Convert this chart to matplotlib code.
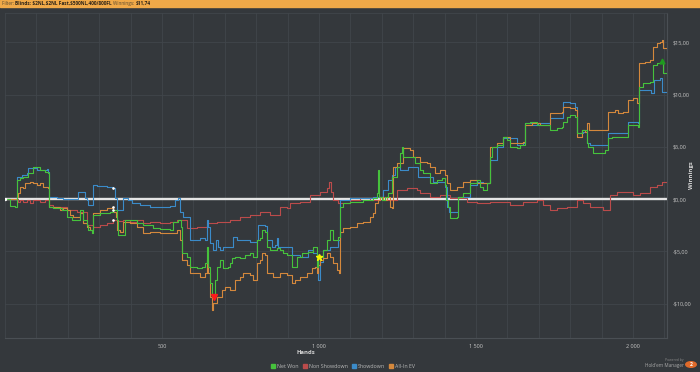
import matplotlib
matplotlib.use("Agg")
import matplotlib.pyplot as plt
from matplotlib.lines import Line2D
from matplotlib.patches import Rectangle, Circle

plt.rcParams['font.family'] = ['Open Sans', 'DejaVu Sans']

# (hand, winnings in $) breakpoints
net_won = [
    (0, 0), (16, -0.65), (32, -0.75), (38, 1.8), (48, 2.0), (57, 2.1), (73, 2.5), (89, 3.05),
    (111, 2.8), (127, 2.6), (137, 2.5), (140, -0.75), (153, -0.85), (182, -1.05), (197, -1.7),
    (213, -2.0), (239, -1.05), (248, -2.0), (261, -2.5), (264, -2.95), (277, -3.25), (280, -1.55),
    (303, -1.35), (334, -1.25), (344, -1.05), (357, -2.0), (360, -3.45), (382, -2.0), (420, -2.3),
    (440, -2.5), (471, -2.8), (494, -2.85), (525, -2.95), (535, -2.2), (551, -2.0), (561, -2.7),
    (564, -5.15), (580, -5.55), (589, -6.5), (612, -6.6), (627, -6.5), (637, -6.1), (643, -4.6),
    (647, -6.5), (653, -8.0), (659, -9.4), (669, -7.75), (675, -6.5), (685, -5.85), (694, -6.6),
    (710, -6.5), (717, -6.1), (723, -5.65), (733, -5.55), (748, -5.65), (764, -5.35), (780, -5.15),
    (790, -5.55), (803, -3.9), (812, -3.75), (819, -2.95), (828, -3.15), (834, -4.6), (844, -4.9),
    (866, -4.7), (876, -4.9), (885, -5.15), (898, -5.35), (914, -6.5), (930, -5.55), (946, -5.15),
    (965, -5.05), (981, -4.6), (994, -6.5), (998, -5.55), (1013, -4.9), (1026, -3.9), (1035, -2.95),
    (1045, -3.9), (1061, -3.65), (1066, -0.75), (1076, -0.4), (1099, -0.3), (1140, -0.1),
    (1172, 0.1), (1185, 0.55), (1188, 2.8), (1191, 0.2), (1201, -0.1), (1210, 0.2), (1220, 0.55),
    (1233, 2.1), (1248, 3.05), (1258, 4.4), (1264, 5.0), (1268, 4.0), (1306, 3.45), (1322, 2.8),
    (1331, 2.5), (1354, 1.55), (1376, 1.8), (1392, 2.0), (1401, 1.35), (1405, -0.1), (1411, -0.75),
    (1417, -1.8), (1440, -1.7), (1443, 0.2), (1459, 0.55), (1481, 1.55), (1503, 1.8), (1513, 1.15),
    (1522, 0.85), (1535, 1.55), (1545, 4.0), (1551, 5.0), (1567, 5.15), (1586, 5.95), (1599, 5.65),
    (1608, 5.0), (1630, 4.9), (1640, 5.15), (1656, 7.25), (1672, 7.35), (1694, 7.1), (1736, 6.6),
    (1758, 6.8), (1774, 6.9), (1777, 7.35), (1790, 7.85), (1799, 8.05), (1815, 7.85), (1822, 6.3),
    (1838, 6.6), (1853, 5.35), (1857, 5.0), (1873, 4.4), (1911, 4.7), (1920, 5.85), (1933, 5.95),
    (1984, 7.1), (2016, 6.9), (2019, 10.7), (2032, 11.1), (2054, 11.2), (2064, 12.8), (2076, 13.0),
    (2086, 13.1), (2092, 13.2), (2096, 12.05), (2108, 11.75),
]

showdown = [
    (0, 0), (38, 2.1), (54, 2.3), (70, 2.5), (73, 2.95), (102, 2.8), (134, 2.85), (137, 2.6),
    (140, 0.2), (166, 0.1), (185, 0.0), (232, 0.65), (255, 0.1), (261, -0.1), (264, -0.55),
    (280, 1.35), (293, 1.25), (325, 1.15), (344, 1.05), (350, 0.1), (357, -1.05), (376, 0.1),
    (392, -0.1), (404, -0.4), (430, -0.55), (462, -0.75), (525, -0.65), (541, -0.1), (551, 0.1),
    (557, -1.25), (567, -1.7), (589, -3.9), (621, -3.75), (637, -3.9), (643, -2.0), (647, -2.7),
    (653, -4.2), (662, -4.9), (672, -3.9), (678, -4.6), (685, -4.9), (694, -4.6), (726, -3.65),
    (739, -3.9), (780, -4.1), (803, -3.9), (806, -2.5), (828, -2.6), (834, -3.9), (850, -4.6),
    (860, -4.4), (866, -3.75), (869, -4.6), (914, -5.35), (940, -5.55), (965, -4.9), (981, -5.15),
    (994, -5.65), (997, -7.75), (1003, -6.0), (1013, -4.9), (1035, -4.6), (1061, -3.9),
    (1067, -0.1), (1099, 0.1), (1172, 0.2), (1204, 0.85), (1220, 1.8), (1233, 2.3), (1242, 3.05),
    (1258, 2.8), (1284, 3.05), (1315, 2.1), (1363, 1.65), (1401, 1.15), (1408, -0.75),
    (1414, -1.25), (1443, 0.2), (1481, 1.35), (1503, 1.65), (1522, 1.55), (1545, 3.75),
    (1567, 5.0), (1586, 5.85), (1630, 5.15), (1650, 5.35), (1656, 7.25), (1678, 7.1), (1697, 7.25),
    (1736, 7.75), (1777, 9.3), (1799, 9.2), (1815, 8.8), (1822, 6.3), (1841, 6.4), (1853, 5.35),
    (1863, 5.15), (1920, 6.3), (1984, 7.35), (2016, 7.25), (2019, 10.45), (2057, 10.15),
    (2067, 11.4), (2086, 11.6), (2092, 10.25), (2108, 10.25),
]

all_in_ev = [
    (0, 0), (38, 0.2), (41, 0.55), (48, 1.15), (57, 1.05), (64, 1.55), (80, 1.65), (89, 1.55),
    (102, 1.35), (111, 1.55), (121, 1.15), (137, 1.05), (140, -0.75), (175, -1.05), (185, -0.85),
    (197, -1.05), (207, -1.55), (217, -1.7), (239, -1.35), (248, -2.3), (261, -2.7), (271, -2.95),
    (280, -1.35), (303, -1.05), (325, -0.85), (341, -0.75), (344, -1.25), (352, -1.7), (358, -2.95),
    (366, -3.15), (376, -2.2), (398, -2.3), (420, -2.7), (440, -3.25), (462, -3.15), (494, -3.25),
    (548, -2.95), (557, -3.9), (564, -5.85), (580, -6.3), (589, -7.1), (621, -7.45), (637, -7.1),
    (643, -5.85), (647, -7.1), (653, -9.4), (659, -10.6), (662, -9.95), (675, -9.4), (691, -8.7),
    (701, -8.4), (717, -8.7), (733, -7.75), (748, -7.45), (758, -7.1), (780, -7.25), (790, -7.75),
    (803, -6.1), (812, -5.85), (819, -5.15), (828, -5.35), (834, -7.1), (854, -7.45), (876, -7.1),
    (898, -7.25), (914, -8.05), (924, -7.75), (940, -7.45), (962, -7.1), (978, -6.6), (987, -6.5),
    (994, -7.1), (997, -6.3), (1003, -5.85), (1013, -5.65), (1026, -5.15), (1035, -5.55),
    (1045, -6.1), (1057, -6.8), (1064, -7.1), (1067, -3.15), (1076, -2.8), (1099, -2.7),
    (1121, -2.3), (1140, -2.2), (1162, -1.7), (1172, -1.35), (1178, -0.4), (1188, -0.1),
    (1194, 0.2), (1204, -0.1), (1217, 0.2), (1226, -0.75), (1233, -0.85), (1236, 3.05),
    (1248, 3.45), (1268, 4.9), (1290, 4.7), (1299, 4.0), (1322, 3.55), (1344, 3.45), (1354, 3.05),
    (1370, 2.5), (1385, 2.8), (1401, 2.3), (1408, 1.55), (1417, 0.85), (1440, 1.15), (1459, 1.65),
    (1481, 1.8), (1503, 1.55), (1545, 5.0), (1567, 5.35), (1586, 5.95), (1608, 5.35), (1650, 5.45),
    (1656, 7.1), (1678, 7.25), (1704, 7.1), (1736, 8.25), (1774, 8.35), (1777, 8.8), (1799, 8.7),
    (1815, 8.5), (1822, 5.95), (1838, 6.6), (1847, 6.4), (1853, 7.25), (1860, 6.6), (1920, 8.35),
    (1942, 8.5), (1952, 8.25), (1968, 8.35), (1984, 9.45), (2000, 9.65), (2013, 9.2), (2019, 13.0),
    (2038, 13.1), (2054, 13.3), (2064, 14.5), (2076, 14.9), (2086, 15.0), (2092, 15.2),
    (2096, 14.45), (2108, 14.25),
]

non_showdown = [
    (0, 0), (41, -0.3), (48, -0.1), (57, -0.3), (70, -0.1), (80, -0.4), (89, -0.1), (111, -0.3),
    (127, -0.1), (140, -0.55), (153, -0.75), (197, -1.05), (229, -1.25), (261, -2.5), (280, -2.7),
    (303, -2.5), (325, -2.3), (344, -2.05), (360, -2.1), (376, -2.0), (398, -2.2), (420, -2.0),
    (440, -2.3), (462, -2.2), (494, -2.3), (525, -2.2), (548, -2.0), (580, -2.8), (612, -2.7),
    (643, -2.3), (675, -2.2), (717, -2.0), (748, -1.7), (780, -1.55), (812, -1.25), (844, -1.55),
    (876, -0.75), (898, -0.85), (908, -0.4), (940, -0.3), (971, 0.4), (1003, 0.65), (1026, 1.05),
    (1032, 1.65), (1038, 0.65), (1045, -0.1), (1061, -0.4), (1099, -0.1), (1131, 0.1),
    (1162, -0.1), (1194, 0.2), (1217, -0.1), (1248, 0.85), (1280, 1.05), (1312, 0.85), (1322, 0.55),
    (1354, 0.2), (1385, 0.4), (1417, 0.1), (1471, -0.3), (1503, -0.4), (1545, -0.3), (1608, -0.55),
    (1650, -0.3), (1694, -0.1), (1713, -0.55), (1736, -1.05), (1758, -0.85), (1790, -0.75),
    (1822, -0.1), (1841, -0.4), (1863, -0.75), (1904, -1.05), (1927, 0.4), (1949, 0.65),
    (2000, 0.4), (2022, 0.55), (2054, 1.15), (2076, 1.35), (2092, 1.65), (2108, 1.55),
]

# special markers
session_hand = 344
session_vals = [1.05, -0.75, -1.05, -2.05]
low_point = (666, -9.4)
star_point = (1000, -5.55)
high_point = (2092, 13.2)

x_ticks = [500, 1000, 1500, 2000]
x_labels = ["500", "1 000", "1 500", "2 000"]
y_ticks = [-10, -5, 0, 5, 10, 15]
y_labels = ["-\\$10,00", "-\\$5,00", "\\$0,00", "\\$5,00", "\\$10,00", "\\$15,00"]

bg = '#34383c'
grid_c = '#41464b'
txt_c = '#c4c4c4'

series = [
    ("Net Won", net_won, '#46c23c', 5),
    ("Non Showdown", non_showdown, '#bb4b4b', 3),
    ("Showdown", showdown, '#3b8bc9', 3.5),
    ("All-In EV", all_in_ev, '#d4883c', 4),
]

fig = plt.figure(figsize=(7, 3.72), dpi=100, facecolor=bg)
ax = fig.add_axes([5 / 700, 1 - 338 / 372, 662 / 700, 325 / 372])
ax.set_facecolor(bg)

ax.set_xlim(0, 2108)
ax.set_ylim(-13.3, 17.8)

for h in range(100, 2108, 100):
    ax.axvline(h, color=grid_c, lw=0.6, zorder=0)
for v in y_ticks:
    ax.axhline(v, color=grid_c, lw=0.6, zorder=0)

ax.axhline(0, color='#e4e4e4', lw=1.7, zorder=1.5)

for name, data, color, z in series:
    hx = [p[0] for p in data]
    hy = [p[1] for p in data]
    ax.plot(hx, hy, color=color, lw=0.8, drawstyle='steps-post', zorder=z)

ax.plot([0], [0], 'o', color='white', ms=1.4, zorder=6)
ax.plot([session_hand] * len(session_vals), session_vals, 'o', color='white', ms=0.9, zorder=6)
ax.plot(*low_point, marker='v', color='#ff1a1a', ms=4, zorder=7)
ax.plot(*star_point, marker='*', color='#f5f000', ms=4.5, zorder=7)
ax.plot(*high_point, marker='^', color='#1f9a1f', ms=3.5, zorder=7)

ax.set_xticks(x_ticks)
ax.set_xticklabels(x_labels)
ax.set_yticks(y_ticks)
ax.set_yticklabels(y_labels)
ax.yaxis.tick_right()
ax.tick_params(length=0, labelsize=4, colors=txt_c, pad=4)
for side in ['top', 'left']:
    ax.spines[side].set_color(grid_c)
    ax.spines[side].set_linewidth(0.6)
for side in ['bottom', 'right']:
    ax.spines[side].set_color('#4a4f54')
    ax.spines[side].set_linewidth(0.8)

fig.text(306 / 700, 1 - 352 / 372, "Hands", ha='center', va='center',
         fontsize=4.2, weight='bold', color='#d8d8d8')
fig.text(692 / 700, 1 - 175 / 372, "Winnings", ha='center', va='center',
         fontsize=4.2, weight='bold', color='#d8d8d8', rotation=90)

handles = [Line2D([], [], ls='', marker='s', ms=2.2, color=c) for _, _, c, _ in series]
fig.legend(handles, [s[0] for s in series], loc='center', bbox_to_anchor=(343 / 700, 1 - 366 / 372),
           ncol=4, fontsize=3.8, frameon=False, handletextpad=0.35, columnspacing=0.8,
           handlelength=0.8, labelcolor='#b8b8b8')

# header bar
fig.patches.append(Rectangle((0, 1 - 7 / 372), 1, 7 / 372, transform=fig.transFigure,
                             color='#f0a948', zorder=0))
t1 = fig.text(1.5 / 700, 1 - 3.6 / 372, "Filter: ", va='center', fontsize=3.4, color='#5a4a30')
t2 = fig.text(0, 0, "Blinds: \\$2NL,\\$2NL Fast,\\$500NL,400/800FL ", fontsize=3.4,
              color='#2a2218', weight='bold')
t3 = fig.text(0, 0, "Winnings: ", fontsize=3.4, color='#5a4a30')
t4 = fig.text(0, 0, "\\$11,74", fontsize=3.4, color='#2a2218', weight='bold')
fig.canvas.draw()
r = fig.canvas.get_renderer()
prev = t1
for t in [t2, t3, t4]:
    bb = prev.get_window_extent(r).transformed(fig.transFigure.inverted())
    t.set_position((bb.x1, 1 - 3.6 / 372))
    t.set_va('center')
    fig.canvas.draw()
    prev = t

# logo
fig.text(684 / 700, 1 - 359.5 / 372, "Powered by", ha='right', va='center', fontsize=2.4, color='#8a8a8a')
fig.text(684 / 700, 1 - 365.5 / 372, "Hold'em Manager", ha='right', va='center', fontsize=3.3, color='#a8a8a8')
fig.patches.append(Circle((691 / 700, 1 - 364.5 / 372), 0.0075, transform=fig.transFigure,
                          color='#e06a2a', zorder=3))
fig.text(691 / 700, 1 - 364.5 / 372, "2", ha='center', va='center', fontsize=3.6,
         color='white', weight='bold')

fig.savefig("out.png", dpi=100, facecolor=bg)
